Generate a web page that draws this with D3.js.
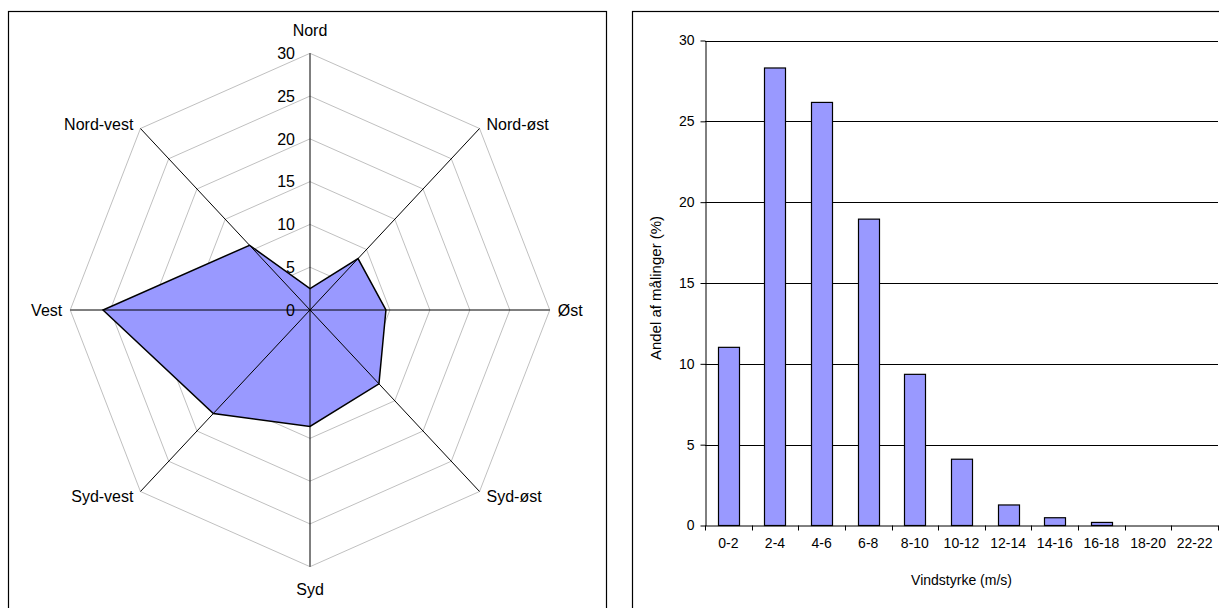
<!DOCTYPE html>
<html>
<head>
<meta charset="utf-8">
<script src="https://cdn.jsdelivr.net/npm/d3@7"></script>
<style>
  html, body { margin: 0; padding: 0; background: #fff; }
  svg { display: block; font-family: Arial, "Liberation Sans", sans-serif; }
</style>
</head>
<body>
<svg id="chart" width="1219" height="608"></svg>
<script>
// Wind direction distribution (% of measurements)
const directions = ["Nord", "Nord-øst", "Øst", "Syd-øst", "Syd", "Syd-vest", "Vest", "Nord-vest"];
const directionShare = [2.5, 8.5, 9.5, 12.2, 13.6, 17.1, 25.9, 10.7];
const radarTicks = [0, 5, 10, 15, 20, 25, 30];

// Wind speed distribution (% of measurements)
const speedBins = ["0-2", "2-4", "4-6", "6-8", "8-10", "10-12", "12-14", "14-16", "16-18", "18-20", "22-22"];
const speedShare = [11.02, 28.3, 26.17, 18.95, 9.35, 4.1, 1.27, 0.48, 0.19, 0, 0];
const barTicks = [0, 5, 10, 15, 20, 25, 30];

const svg = d3.select("#chart");
const FILL = "#9999FF";

// Panel frames
svg.append("rect").attr("x", 8.5).attr("y", 11.5).attr("width", 598).attr("height", 620)
  .attr("fill", "none").attr("stroke", "#000").attr("stroke-width", 1.2);
svg.append("rect").attr("x", 632.5).attr("y", 11.5).attr("width", 620).attr("height", 620)
  .attr("fill", "none").attr("stroke", "#000").attr("stroke-width", 1.2);

// ---------------- Radar chart ----------------
const cx = 310, cy = 310;
const xSquash = 0.934;
const r = d3.scaleLinear().domain([0, 30]).range([0, 256.7]);
const angle = i => i * 2 * Math.PI / directions.length;
const px = (v, i) => cx + xSquash * r(v) * Math.sin(angle(i));
const py = (v, i) => cy - r(v) * Math.cos(angle(i));

const radar = svg.append("g");

// concentric octagon grid
radar.selectAll("polygon.ring")
  .data(radarTicks.filter(t => t > 0))
  .join("polygon")
  .attr("class", "ring")
  .attr("points", t => directions.map((d, i) => [px(t, i), py(t, i)].join(",")).join(" "))
  .attr("fill", "none").attr("stroke", "#c0c0c0").attr("stroke-width", 1);

// filled data area
const areaPts = directionShare.map((v, i) => [px(v, i), py(v, i)]);
radar.append("polygon")
  .attr("points", areaPts.map(p => p.join(",")).join(" "))
  .attr("fill", FILL).attr("stroke", "none");

// spokes
radar.selectAll("line.spoke")
  .data(directions)
  .join("line")
  .attr("class", "spoke")
  .attr("x1", cx).attr("y1", cy)
  .attr("x2", (d, i) => px(30, i)).attr("y2", (d, i) => py(30, i))
  .attr("stroke", "#000").attr("stroke-width", 1);

// outline of data area
radar.append("polygon")
  .attr("points", areaPts.map(p => p.join(",")).join(" "))
  .attr("fill", "none").attr("stroke", "#000").attr("stroke-width", 1.5)
  .attr("stroke-linejoin", "miter");

// value labels along the north spoke
radar.selectAll("text.tick")
  .data(radarTicks)
  .join("text")
  .attr("class", "tick")
  .attr("x", cx - 15).attr("y", t => cy - r(t))
  .attr("dy", "0.36em")
  .attr("text-anchor", "end")
  .attr("font-size", 16)
  .text(t => t);

// direction labels
const labelPos = [
  { dx: 0, dy: -23, anchor: "middle" },
  { dx: 7, dy: -4, anchor: "start" },
  { dx: 8, dy: 0, anchor: "start" },
  { dx: 7, dy: 5, anchor: "start" },
  { dx: 0, dy: 23, anchor: "middle" },
  { dx: -7, dy: 5, anchor: "end" },
  { dx: -8, dy: 0, anchor: "end" },
  { dx: -7, dy: -4, anchor: "end" }
];
radar.selectAll("text.dir")
  .data(directions)
  .join("text")
  .attr("class", "dir")
  .attr("x", (d, i) => px(30, i) + labelPos[i].dx)
  .attr("y", (d, i) => py(30, i) + labelPos[i].dy)
  .attr("dy", "0.36em")
  .attr("text-anchor", (d, i) => labelPos[i].anchor)
  .attr("font-size", 16)
  .text(d => d);

// ---------------- Bar chart ----------------
const x0 = 705, x1 = 1218, yTop = 40.5, yBot = 525.5;
const x = d3.scaleBand().domain(speedBins).range([x0, x1]).paddingInner(0.55).paddingOuter(0.275);
const y = d3.scaleLinear().domain([0, 30]).range([yBot, yTop]);

const bars = svg.append("g");

// horizontal gridlines
bars.selectAll("line.grid")
  .data(barTicks.filter(t => t > 0))
  .join("line")
  .attr("class", "grid")
  .attr("x1", x0).attr("x2", x1)
  .attr("y1", t => Math.round(y(t)) + 0.5).attr("y2", t => Math.round(y(t)) + 0.5)
  .attr("stroke", "#000").attr("stroke-width", 1);

// bars
bars.selectAll("rect.bar")
  .data(speedShare.map((v, i) => ({ bin: speedBins[i], v })))
  .join("rect")
  .attr("class", "bar")
  .attr("x", d => Math.round(x(d.bin)) + 0.5)
  .attr("y", d => y(d.v))
  .attr("width", Math.round(x.bandwidth()))
  .attr("height", d => yBot - y(d.v))
  .attr("fill", FILL).attr("stroke", "#000").attr("stroke-width", 1.2);

// y axis
const yAxis = d3.axisLeft(y).tickValues(barTicks).tickSize(5).tickSizeOuter(0).tickPadding(6);
const gy = bars.append("g").attr("transform", `translate(${x0 + 0.5},0)`).call(yAxis);
gy.select(".domain").attr("stroke", "#000");
gy.selectAll(".tick line").attr("stroke", "#000");
gy.selectAll(".tick text").attr("font-size", 14).attr("font-family", "Arial, 'Liberation Sans', sans-serif").attr("fill", "#000");

// x axis: labels centred in each band, ticks on band boundaries
const xAxis = d3.axisBottom(x).tickSize(0).tickSizeOuter(0).tickPadding(13);
const gx = bars.append("g").attr("transform", `translate(0,${yBot})`).call(xAxis);
gx.select(".domain").attr("stroke", "#000");
gx.selectAll(".tick text").attr("font-size", 14).attr("font-family", "Arial, 'Liberation Sans', sans-serif").attr("fill", "#000");
bars.selectAll("line.xtick")
  .data(d3.range(speedBins.length + 1))
  .join("line")
  .attr("class", "xtick")
  .attr("x1", i => Math.round(x0 + i * x.step()) + 0.5).attr("x2", i => Math.round(x0 + i * x.step()) + 0.5)
  .attr("y1", yBot).attr("y2", yBot + 5)
  .attr("stroke", "#000");

// axis titles
bars.append("text")
  .attr("x", (x0 + x1) / 2).attr("y", 580).attr("dy", "0.36em")
  .attr("text-anchor", "middle").attr("font-size", 14)
  .text("Vindstyrke (m/s)");
bars.append("text")
  .attr("transform", "translate(656,288) rotate(-90)")
  .attr("dy", "0.36em")
  .attr("text-anchor", "middle").attr("font-size", 15)
  .text("Andel af målinger (%)");
</script>
</body>
</html>
